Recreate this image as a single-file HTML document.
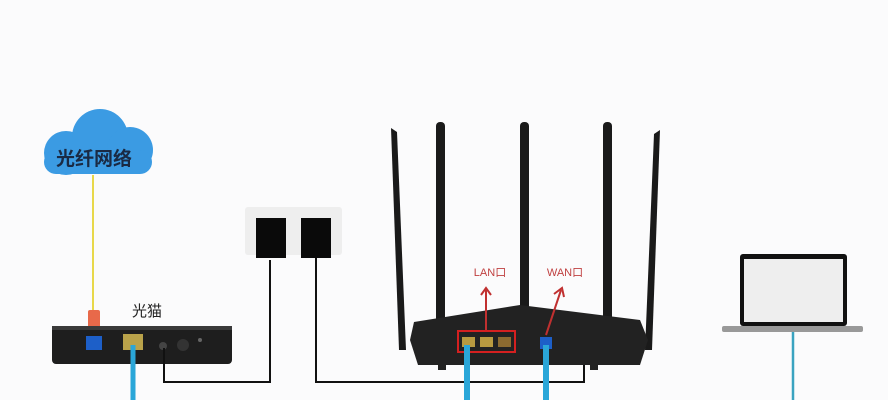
<!DOCTYPE html>
<html><head><meta charset="utf-8"><style>
html,body{margin:0;padding:0;background:#fbfbfc;}
svg{display:block}
</style></head><body>
<svg width="888" height="400" viewBox="0 0 888 400" xmlns="http://www.w3.org/2000/svg">
<rect width="888" height="400" fill="#fbfbfc"/>
<g fill="#3b9be3">
<circle cx="66" cy="153" r="22"/>
<circle cx="100" cy="137" r="28"/>
<circle cx="130" cy="150" r="23"/>
<rect x="44" y="150" width="108" height="24" rx="12"/>
</g>
<text x="94" y="165" font-family="Liberation Sans, Noto Sans CJK SC, sans-serif" font-size="19" font-weight="bold" fill="#1a2a44" text-anchor="middle">光纤网络</text>
<line x1="93" y1="175" x2="93" y2="310" stroke="#e8d84a" stroke-width="2"/>
<rect x="88" y="310" width="12" height="18" rx="2" fill="#e8694a"/>
<text x="147" y="316" font-family="Liberation Sans, Noto Sans CJK SC, sans-serif" font-size="15" fill="#222" text-anchor="middle">光猫</text>
<rect x="52" y="326" width="180" height="38" rx="4" fill="#1e1e1e"/>
<rect x="52" y="326" width="180" height="4" fill="#3a3a3a"/>
<rect x="86" y="336" width="16" height="14" fill="#1d5fc8"/>
<rect x="123" y="334" width="20" height="16" fill="#b9a24a"/>
<circle cx="163" cy="346" r="4" fill="#444"/>
<circle cx="183" cy="345" r="6" fill="#333"/>
<circle cx="200" cy="340" r="2" fill="#666"/>
<line x1="133" y1="345" x2="133" y2="400" stroke="#2aa6d8" stroke-width="5"/>
<polyline points="164,348 164,382 270,382 270,260" fill="none" stroke="#111" stroke-width="2"/>
<rect x="245" y="207" width="97" height="48" rx="3" fill="#eeeeee"/>
<rect x="256" y="218" width="30" height="40" fill="#0a0a0a"/>
<rect x="301" y="218" width="30" height="40" fill="#0a0a0a"/>
<polyline points="316,258 316,382 584,382 584,345" fill="none" stroke="#111" stroke-width="2"/>
<g fill="#1a1a1a">
<polygon points="391,128 397,132 406,350 399,350"/>
<rect x="436" y="122" width="9" height="222" rx="4"/>
<rect x="520" y="122" width="9" height="222" rx="4"/>
<rect x="603" y="122" width="9" height="222" rx="4"/>
<polygon points="660,130 654,134 645,350 652,350"/>
</g>
<polygon points="414,322 520,305 640,320 648,340 640,365 418,365 410,340" fill="#222"/>
<rect x="438" y="362" width="8" height="8" fill="#222"/>
<rect x="590" y="362" width="8" height="8" fill="#222"/>
<rect x="458" y="331" width="57" height="21" fill="none" stroke="#d42020" stroke-width="2"/>
<rect x="462" y="337" width="13" height="10" fill="#b89a40"/>
<rect x="480" y="337" width="13" height="10" fill="#b89a40"/>
<rect x="498" y="337" width="13" height="10" fill="#8b6a30"/>
<rect x="540" y="337" width="12" height="12" fill="#1d5fc8"/>
<line x1="486" y1="330" x2="486" y2="290" stroke="#c03030" stroke-width="2"/>
<polyline points="481,295 486,288 491,295" fill="none" stroke="#c03030" stroke-width="2"/>
<line x1="546" y1="335" x2="561" y2="290" stroke="#c03030" stroke-width="2"/>
<polyline points="554,294 562,288 564,297" fill="none" stroke="#c03030" stroke-width="2"/>
<text x="490" y="276" font-family="Liberation Sans, Noto Sans CJK SC, sans-serif" font-size="11" fill="#c04040" text-anchor="middle">LAN口</text>
<text x="565" y="276" font-family="Liberation Sans, Noto Sans CJK SC, sans-serif" font-size="11" fill="#c04040" text-anchor="middle">WAN口</text>
<line x1="467" y1="345" x2="467" y2="400" stroke="#2aa6d8" stroke-width="6"/>
<line x1="546" y1="345" x2="546" y2="400" stroke="#2aa6d8" stroke-width="6"/>
<rect x="740" y="254" width="107" height="72" rx="3" fill="#111"/>
<rect x="744" y="259" width="99" height="63" fill="#eeeeee"/>
<rect x="722" y="326" width="141" height="6" rx="2" fill="#999"/>
<line x1="793" y1="332" x2="793" y2="400" stroke="#3aa3c0" stroke-width="2.5"/>
</svg>
</body></html>
